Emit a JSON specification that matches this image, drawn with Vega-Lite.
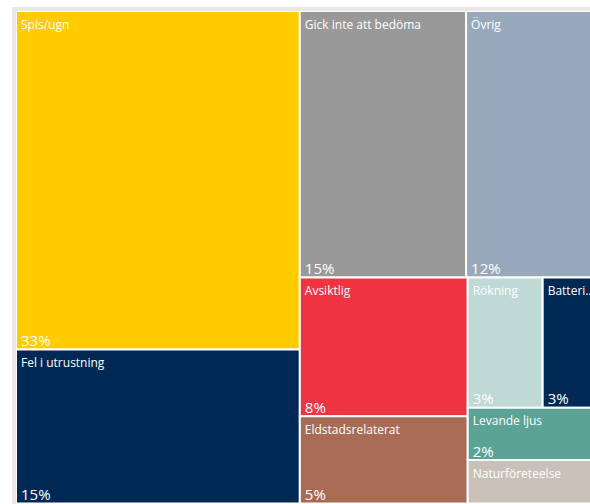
{
  "$schema": "https://vega.github.io/schema/vega-lite/v6.json",
  "width": 574,
  "height": 493,
  "autosize": {"type": "none"},
  "padding": {"left": 16, "top": 11, "right": 0, "bottom": 0},
  "background": "white",
  "config": {"view": {"stroke": "#EAE7E4", "strokeWidth": 8}, "font": "Open Sans"},
  "data": {
    "values": [
      {"order": 1, "name": "Spis/ugn", "value": 33.4, "g1": "A", "g2": "Spis", "g3": "Spis", "g4": "Spis"},
      {"order": 2, "name": "Fel i utrustning", "value": 15.2, "g1": "A", "g2": "Fel", "g3": "Fel", "g4": "Fel"},
      {"order": 3, "name": "Gick inte att bedöma", "value": 15.4, "g1": "B", "g2": "Top", "g3": "Gick", "g4": "Gick"},
      {"order": 4, "name": "Övrig", "value": 12.4, "g1": "B", "g2": "Top", "g3": "Ovrig", "g4": "Ovrig"},
      {"order": 5, "name": "Avsiktlig", "value": 8.1, "g1": "B", "g2": "Bot", "g3": "L", "g4": "Avs"},
      {"order": 6, "name": "Eldstadsrelaterat", "value": 5.1, "g1": "B", "g2": "Bot", "g3": "L", "g4": "Eld"},
      {"order": 7, "name": "Rökning", "value": 3.4, "g1": "B", "g2": "Bot", "g3": "R", "g4": "R1"},
      {"order": 8, "name": "Batterier", "value": 2.6, "g1": "B", "g2": "Bot", "g3": "R", "g4": "R1"},
      {"order": 9, "name": "Levande ljus", "value": 2.4, "g1": "B", "g2": "Bot", "g3": "R", "g4": "Lev"},
      {"order": 10, "name": "Naturföreteelse", "value": 2.0, "g1": "B", "g2": "Bot", "g3": "R", "g4": "Nat"}
    ]
  },
  "transform": [
    {"window": [{"op": "sum", "field": "value", "as": "cum"}], "sort": [{"field": "order"}], "frame": [null, 0]},
    {"calculate": "datum.cum - datum.value", "as": "st"},
    {"joinaggregate": [{"op": "sum", "field": "value", "as": "T"}]},
    {"joinaggregate": [{"op": "sum", "field": "value", "as": "s1"}, {"op": "min", "field": "st", "as": "a1"}], "groupby": ["g1"]},
    {"joinaggregate": [{"op": "sum", "field": "value", "as": "s2"}, {"op": "min", "field": "st", "as": "a2"}], "groupby": ["g1", "g2"]},
    {"joinaggregate": [{"op": "sum", "field": "value", "as": "s3"}, {"op": "min", "field": "st", "as": "a3"}], "groupby": ["g1", "g2", "g3"]},
    {"joinaggregate": [{"op": "sum", "field": "value", "as": "s4"}, {"op": "min", "field": "st", "as": "a4"}], "groupby": ["g1", "g2", "g3", "g4"]},
    {"calculate": "datum.a1 / datum.T", "as": "xa"},
    {"calculate": "datum.s1 / datum.T", "as": "wa"},
    {"calculate": "(datum.a2 - datum.a1) / datum.s1", "as": "yb"},
    {"calculate": "datum.s2 / datum.s1", "as": "hb"},
    {"calculate": "datum.xa + (datum.a3 - datum.a2) / datum.s2 * datum.wa", "as": "xc"},
    {"calculate": "datum.s3 / datum.s2 * datum.wa", "as": "wc"},
    {"calculate": "datum.yb + (datum.a4 - datum.a3) / datum.s3 * datum.hb", "as": "yd"},
    {"calculate": "datum.s4 / datum.s3 * datum.hb", "as": "hd"},
    {"calculate": "datum.xc + (datum.st - datum.a4) / datum.s4 * datum.wc", "as": "xe"},
    {"calculate": "datum.value / datum.s4 * datum.wc", "as": "we"},
    {"calculate": "datum.xe * 100", "as": "x0"},
    {"calculate": "(datum.xe + datum.we) * 100", "as": "x1"},
    {"calculate": "datum.yd * 100", "as": "y0"},
    {"calculate": "(datum.yd + datum.hd) * 100", "as": "y1"},
    {"calculate": "datum.value / datum.T", "as": "pct"}
  ],
  "encoding": {
    "x": {"field": "x0", "type": "quantitative", "scale": {"domain": [0, 98.288], "nice": false, "zero": false}, "axis": null},
    "y": {"field": "y0", "type": "quantitative", "scale": {"domain": [0, 100.1], "nice": false, "zero": false, "reverse": true}, "axis": null}
  },
  "layer": [
    {
      "mark": {"type": "rect", "stroke": "white", "strokeWidth": 2, "clip": true},
      "encoding": {
        "x2": {"field": "x1"},
        "y2": {"field": "y1"},
        "color": {
          "field": "name",
          "type": "nominal",
          "legend": null,
          "scale": {
            "domain": ["Spis/ugn", "Fel i utrustning", "Gick inte att bedöma", "Övrig", "Avsiktlig", "Eldstadsrelaterat", "Rökning", "Batterier", "Levande ljus", "Naturföreteelse"],
            "range": ["#FFCC00", "#002855", "#999999", "#98A9BC", "#EF3340", "#A96B56", "#BFD9D5", "#002855", "#5BA396", "#C9C0B7"]
          }
        }
      }
    },
    {
      "mark": {"type": "text", "align": "left", "baseline": "alphabetic", "dx": 5, "dy": 17.5, "fontSize": 12, "color": "white", "limit": {"expr": "datum.we * 584 - 9"}},
      "encoding": {"text": {"field": "name"}}
    },
    {
      "transform": [{"filter": "datum.hd > 0.095"}],
      "mark": {"type": "text", "align": "left", "baseline": "alphabetic", "dx": 5, "dy": -3.5, "fontSize": 15, "color": "white"},
      "encoding": {
        "y": {"field": "y1", "type": "quantitative"},
        "text": {"field": "pct", "type": "quantitative", "format": ".0%"}
      }
    }
  ]
}
